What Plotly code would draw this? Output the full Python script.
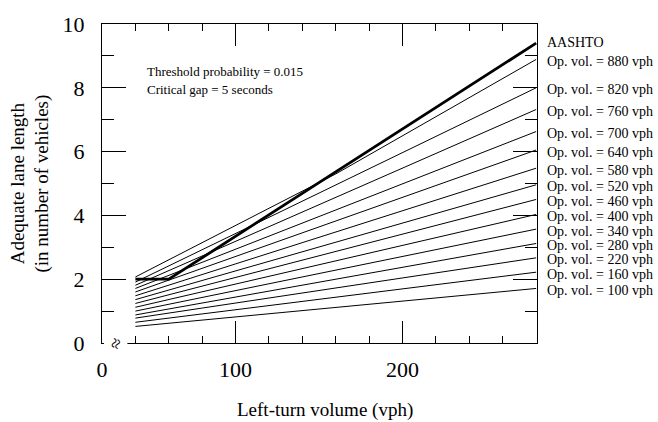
import plotly.graph_objects as go

# ---------------- data ----------------
left_turn_start = 40
left_turn_end = 280
op_volumes = [880, 820, 760, 700, 640, 580, 520, 460, 400, 340, 280, 220, 160, 100]
length_at_start = [2.07, 1.91, 1.81, 1.71, 1.60, 1.48, 1.36, 1.24, 1.12, 1.00, 0.88, 0.78, 0.65, 0.52]
length_at_end = [8.89, 8.00, 7.32, 6.63, 6.05, 5.48, 4.96, 4.50, 4.03, 3.57, 3.12, 2.67, 2.22, 1.71]
# the 880 vph curve bends slightly; value read where it meets the AASHTO line
mid_volume = 160
length_880_mid = 5.30

aashto_volume = [40, 60, 280]
aashto_length = [2.0, 2.0, 9.40]

x_tick_vals = [20, 100, 200]
x_tick_text = ["0", "100", "200"]
y_tick_vals = [0, 2, 4, 6, 8, 10]

SERIF = "Liberation Serif, Times New Roman, serif"

fig = go.Figure()

for vol, s, e in zip(op_volumes, length_at_start, length_at_end):
    if vol == 880:
        xs = [left_turn_start, mid_volume, left_turn_end]
        ys = [s, length_880_mid, e]
    else:
        xs = [left_turn_start, left_turn_end]
        ys = [s, e]
    fig.add_trace(go.Scatter(
        x=xs, y=ys, mode="lines",
        line=dict(color="black", width=1), showlegend=False, hoverinfo="skip"))
    fig.add_annotation(x=1, xref="paper", y=e, yref="y", text=f"Op. vol. = {vol} vph",
                       xanchor="left", yanchor="middle", xshift=8, yshift=-2, showarrow=False,
                       font=dict(family=SERIF, size=14, color="black"))

fig.add_trace(go.Scatter(
    x=aashto_volume, y=aashto_length, mode="lines",
    line=dict(color="black", width=2.8), showlegend=False, hoverinfo="skip"))
fig.add_annotation(x=1, xref="paper", y=aashto_length[-1], yref="y", text="AASHTO",
                   xanchor="left", yanchor="middle", xshift=8, yshift=1, showarrow=False,
                   font=dict(family=SERIF, size=14, color="black"))

# in-plot notes
fig.add_annotation(x=0, xref="paper", y=1, yref="paper", xanchor="left", yanchor="middle",
                   xshift=43, yshift=-47, text="Threshold probability = 0.015", showarrow=False,
                   font=dict(family=SERIF, size=13, color="black"))
fig.add_annotation(x=0, xref="paper", y=1, yref="paper", xanchor="left", yanchor="middle",
                   xshift=43, yshift=-65, text="Critical gap = 5 seconds", showarrow=False,
                   font=dict(family=SERIF, size=13, color="black"))

# axis titles
fig.add_annotation(x=0, xref="paper", y=0.5, yref="paper", xanchor="center", yanchor="middle",
                   xshift=-72, text="Adequate lane length<br>(in number of vehicles)",
                   textangle=-90, showarrow=False,
                   font=dict(family=SERIF, size=19, color="black"))
fig.add_annotation(x=0.5, xref="paper", y=0, yref="paper", xanchor="center", yanchor="middle",
                   xshift=5, yshift=-67, text="Left-turn volume (vph)", showarrow=False,
                   font=dict(family=SERIF, size=19, color="black"))

# axis break mark
fig.add_annotation(x=28, xref="x", y=0, yref="y", text="≈", textangle=-70, showarrow=False,
                   bgcolor="white", borderpad=0,
                   font=dict(family=SERIF, size=19, color="black"))

fig.update_layout(
    width=658, height=422,
    margin=dict(l=102, r=121, t=21, b=79),
    paper_bgcolor="white", plot_bgcolor="white",
    showlegend=False,
    xaxis=dict(range=[20, 280.5], tickvals=x_tick_vals, ticktext=x_tick_text,
               ticks="inside", ticklen=22, tickwidth=1, tickcolor="black",
               showline=True, linecolor="black", linewidth=1, mirror="ticks",
               showgrid=False, zeroline=False, ticklabelstandoff=7,
               minor=dict(dtick=20, tick0=0, ticks="inside", ticklen=7, tickcolor="black",
                          showgrid=False),
               tickfont=dict(family=SERIF, size=22, color="black")),
    yaxis=dict(range=[0, 10], tickvals=y_tick_vals,
               ticks="inside", ticklen=24, tickwidth=1, tickcolor="black",
               showline=True, linecolor="black", linewidth=1, mirror="ticks",
               showgrid=False, zeroline=False, ticklabelstandoff=12,
               minor=dict(dtick=1, tick0=0, ticks="inside", ticklen=12, tickcolor="black",
                          showgrid=False),
               tickfont=dict(family=SERIF, size=22, color="black")),
)

fig.write_html("out.html", config={"displayModeBar": False},
               post_script="document.body.style.margin='0';document.body.style.overflow='hidden';")
